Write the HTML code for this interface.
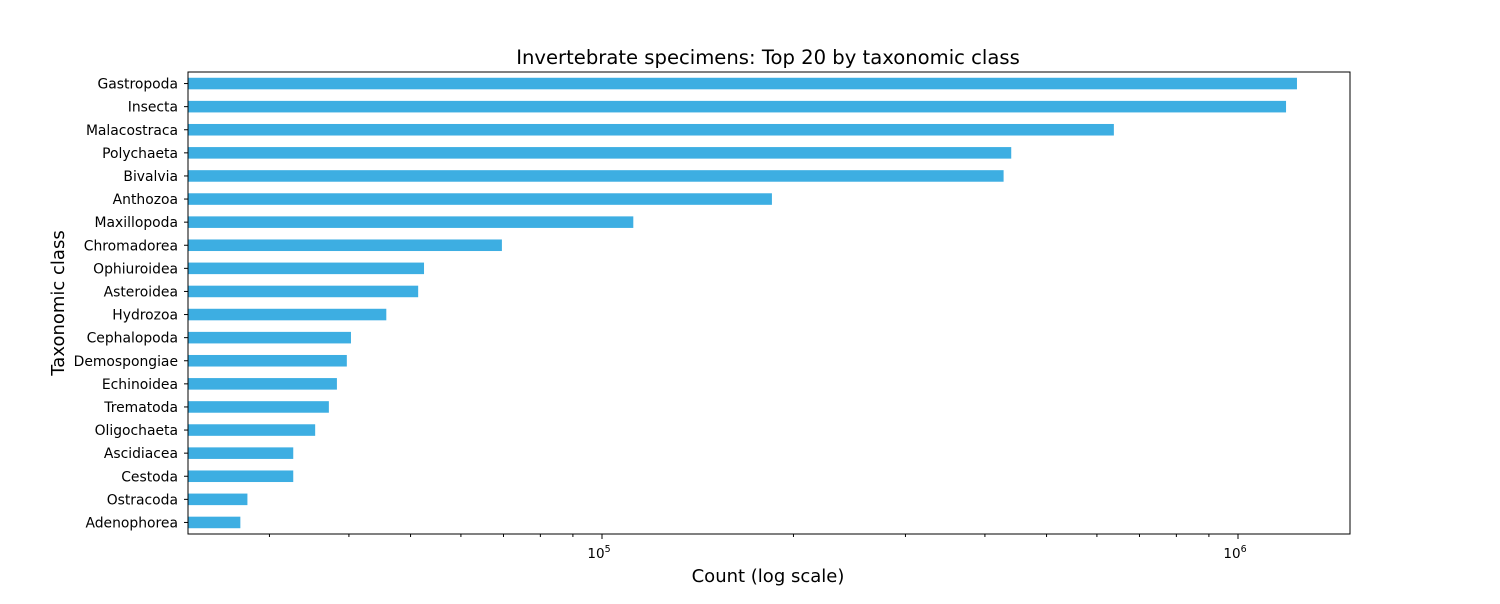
<!DOCTYPE html>
<html><head><meta charset="utf-8"><style>
body{margin:0;background:#fff;font-family:"DejaVu Sans","Liberation Sans",sans-serif;}
</style></head><body>
<svg id="chart" width="1500" height="600" xmlns="http://www.w3.org/2000/svg" font-family="DejaVu Sans, Liberation Sans, sans-serif">
<rect width="1500" height="600" fill="#fff"/>
<text x="768" y="64" text-anchor="middle" font-size="19.6">Invertebrate specimens: Top 20 by taxonomic class</text>
<text x="768" y="582" text-anchor="middle" font-size="18">Count (log scale)</text>
<text x="64" y="303" text-anchor="middle" font-size="18" transform="rotate(-90 64 303)">Taxonomic class</text>
<g id="bars"></g><g id="ticks"></g>
<rect x="188" y="72" width="1162" height="462" fill="none" stroke="#000" stroke-width="1"/>
</svg>
<script>
const categories=["Gastropoda","Insecta","Malacostraca","Polychaeta","Bivalvia","Anthozoa","Maxillopoda","Chromadorea","Ophiuroidea","Asteroidea","Hydrozoa","Cephalopoda","Demospongiae","Echinoidea","Trematoda","Oligochaeta","Ascidiacea","Cestoda","Ostracoda","Adenophorea"];
const counts=[1238000,1190000,638000,440000,428000,185000,112000,69600,52500,51400,45800,40300,39700,38300,37200,35400,32700,32700,27700,27000];
const majorTicks=[5,6];
const NS="http://www.w3.org/2000/svg";
const L=188,R=1350,T=72,B=534;
const x0=602,dec=636;
function xs(v){return x0+(Math.log10(v)-5)*dec;}
const step=(B-T)/categories.length,bh=step*0.5;
const bars=document.getElementById('bars'),ticks=document.getElementById('ticks');
categories.forEach((c,i)=>{
 const cy=T+step*(i+0.5);
 const r=document.createElementNS(NS,'rect');
 r.setAttribute('x',L);r.setAttribute('y',cy-bh/2);
 r.setAttribute('width',Math.max(0,xs(counts[i])-L));r.setAttribute('height',bh);
 r.setAttribute('fill','#3daee2');
 
 
 bars.appendChild(r);
 const tk=document.createElementNS(NS,'line');
 tk.setAttribute('x1',L-4);tk.setAttribute('x2',L);tk.setAttribute('y1',cy);tk.setAttribute('y2',cy);tk.setAttribute('stroke','#000');
 ticks.appendChild(tk);
 const t=document.createElementNS(NS,'text');
 t.setAttribute('x',L-10);t.setAttribute('y',cy+5);t.setAttribute('text-anchor','end');t.setAttribute('font-size','13.9');
 t.textContent=c;
 
 
 ticks.appendChild(t);
});
for(let e=4;e<=6;e++){for(let m=1;m<10;m++){
 const v=m*Math.pow(10,e),x=xs(v);
 if(x<L||x>R)continue;
 const major=m===1;
 const l=document.createElementNS(NS,'line');
 l.setAttribute('x1',x);l.setAttribute('x2',x);l.setAttribute('y1',B);l.setAttribute('y2',B+(major?5:3));l.setAttribute('stroke','#000');
 ticks.appendChild(l);
 if(major&&majorTicks.includes(e)){
  const t=document.createElementNS(NS,'text');
  t.setAttribute('x',x-3);t.setAttribute('y',B+24);t.setAttribute('text-anchor','middle');t.setAttribute('font-size','13.5');
  t.innerHTML='10<tspan font-size="9.5" dy="-6">'+e+'</tspan>';
  
  
  ticks.appendChild(t);
 }
}}
</script>
</body></html>
